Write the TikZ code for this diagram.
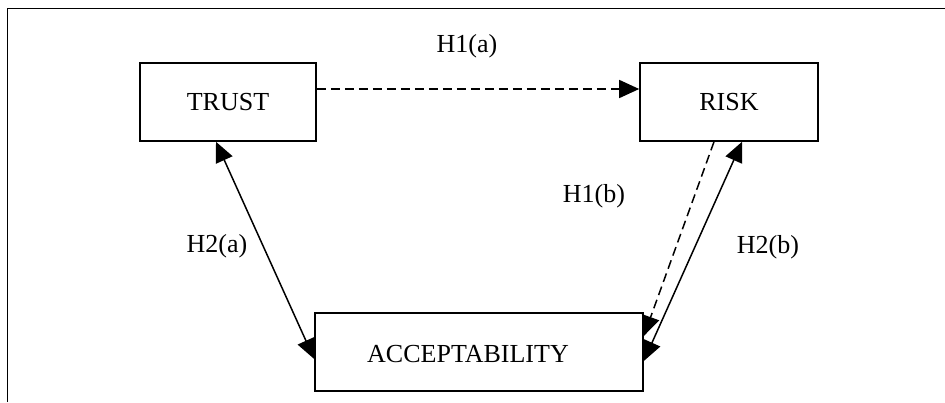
\documentclass[tikz,border=0pt]{standalone}
\usepackage{fontspec}
\setmainfont{Liberation Serif}
\usetikzlibrary{arrows.meta}
\begin{document}
\begin{tikzpicture}[x=1pt,y=-1pt,
  every node/.style={font=\fontsize{26}{30}\selectfont},
  boxnode/.style={draw,line width=1.6pt,rectangle,inner sep=0pt},
  tip/.style={-{Triangle[length=20pt,width=18pt]}},
  bitip/.style={{Triangle[length=20pt,width=18pt]}-{Triangle[length=20pt,width=18pt]}},
  conn/.style={line width=1.5pt},
  dashconn/.style={line width=1.5pt,dash pattern=on 9pt off 5pt},
  lab/.style={anchor=base,inner sep=0pt}]
\useasboundingbox (0,0) rectangle (945,402);
\draw[line width=1pt] (7,402) -- (7,8) -- (945,8);
\node[boxnode,minimum width=176pt,minimum height=78pt] (trust) at (228,102) {TRUST};
\node[boxnode,minimum width=178pt,minimum height=78pt] (risk) at (729,102) {RISK};
\node[boxnode,minimum width=328pt,minimum height=78pt] (acc) at (479,352) {};
\node[inner sep=0pt] (acctext) at (468,354) {ACCEPTABILITY};
\draw[dashconn,tip] ([yshift=13pt]trust.east) -- ([yshift=13pt]risk.west);
\draw[conn,bitip] ([xshift=-12pt]trust.south) -- ([yshift=-7pt]acc.west);
\draw[dashconn,tip] ([xshift=-15pt]risk.south) -- ([yshift=16pt]acc.east);
\draw[conn,bitip] ([xshift=13pt]risk.south) -- ([yshift=-9pt]acc.east);
\node[lab] (h1a) at (467,52) {H1(a)};
\node[lab] (h1b) at (594,202) {H1(b)};
\node[lab] (h2a) at (217,252) {H2(a)};
\node[lab] (h2b) at (768,253) {H2(b)};
\end{tikzpicture}
\end{document}
